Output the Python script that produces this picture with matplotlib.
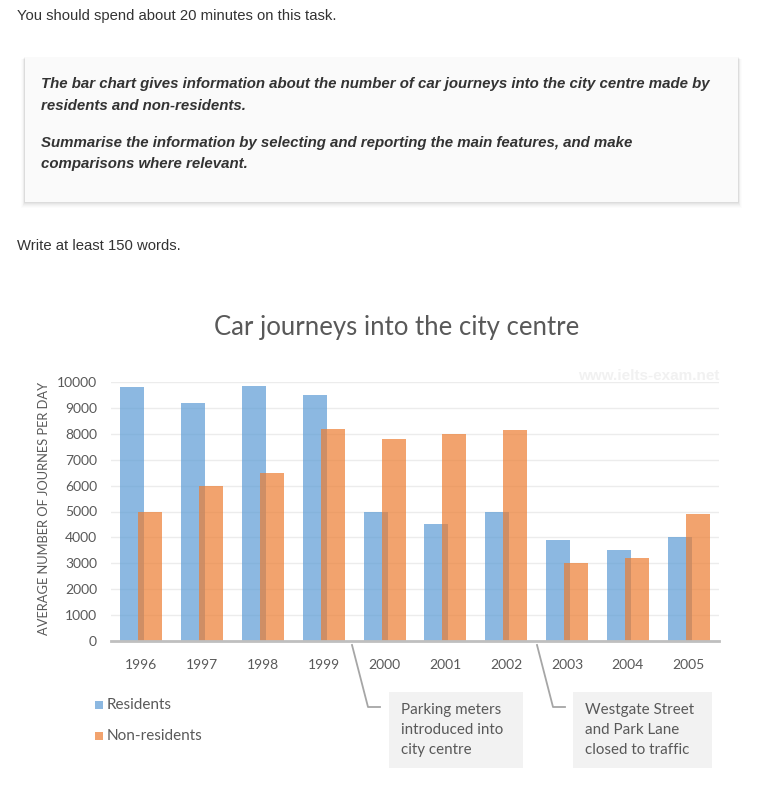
import numpy as np
import matplotlib
matplotlib.use('Agg')
import matplotlib.pyplot as plt
from matplotlib.patches import Rectangle
from matplotlib.lines import Line2D

# data
years = ['1996', '1997', '1998', '1999', '2000', '2001', '2002', '2003', '2004', '2005']
residents = [9800, 9200, 9850, 9500, 5000, 4500, 5000, 3900, 3500, 4000]
non_residents = [5000, 6000, 6500, 8200, 7800, 8000, 8150, 3000, 3200, 4900]
y_ticks = list(range(0, 10001, 1000))

W, H = 783, 788
chart_font = 'Lato'
page_font = 'Liberation Sans'
txt_col = '#595959'


def fx(px):
    return px / W


def fy(py):
    return 1 - py / H


fig = plt.figure(figsize=(W / 100, H / 100), dpi=100)
fig.patch.set_facecolor('white')

# ---- page text above the chart ----
fig.text(fx(17), fy(16), 'You should spend about 20 minutes on this task.',
         family=page_font, fontsize=10.7, color='#333333', va='center')

# task box with a soft shadow (mostly below)
for i in range(6):
    grow = i + 1
    fig.patches.append(Rectangle((fx(25 - grow * 0.6), fy(202 + grow * 1.0)),
                                 fx(713 + grow * 1.2), (145 + grow * 0.6) / H,
                                 transform=fig.transFigure, facecolor='black',
                                 alpha=0.035 - i * 0.005, edgecolor='none', zorder=0))
fig.patches.append(Rectangle((fx(25), fy(202)), fx(713), 145 / H, transform=fig.transFigure,
                             facecolor='#fafafa', edgecolor='none', zorder=1))

box_lines = [
    (84, 'The bar chart gives information about the number of car journeys into the city centre made by'),
    (106, 'residents and non-residents.'),
    (143, 'Summarise the information by selecting and reporting the main features, and make'),
    (164, 'comparisons where relevant.'),
]
for yy, s in box_lines:
    fig.text(fx(41), fy(yy), s, family=page_font, fontsize=10.8, fontweight='bold',
             style='italic', color='#333333', va='center', zorder=2)

fig.text(fx(17), fy(246), 'Write at least 150 words.',
         family=page_font, fontsize=10.7, color='#333333', va='center')

# ---- chart ----
ax = fig.add_axes([fx(111), fy(641), fx(719 - 111), (641 - 382) / H])
x = np.arange(len(years))
bw = 0.393
off = 0.148
ax.bar(x - off, residents, bw, color='#5B9BD5', alpha=0.7, zorder=2, label='Residents')
ax.bar(x + off, non_residents, bw, color='#ED7D31', alpha=0.7, zorder=3, label='Non-residents')

ax.set_xlim(-0.5, len(years) - 0.5)
ax.set_ylim(0, 10000)
ax.set_yticks(y_ticks)
ax.set_xticks(x)
ax.set_xticklabels(years)
ax.yaxis.grid(True, color='#ececec', lw=1, zorder=0)
ax.set_axisbelow(True)
for s in ['top', 'right', 'left']:
    ax.spines[s].set_visible(False)
ax.spines['bottom'].set_color('#bfbfbf')
ax.spines['bottom'].set_linewidth(2)
ax.spines['bottom'].set_zorder(4)
ax.tick_params(axis='both', length=0, labelcolor=txt_col, labelsize=10)
ax.tick_params(axis='x', pad=13)
ax.tick_params(axis='y', pad=10)
for lab in ax.get_xticklabels() + ax.get_yticklabels():
    lab.set_family(chart_font)

fig.text(fx(44), fy(508), 'AVERAGE NUMBER OF JOURNES PER DAY', rotation=90,
         family=chart_font, fontsize=9.3, color=txt_col, ha='center', va='center')

fig.text(fx(397), fy(327), 'Car journeys into the city centre', family=chart_font,
         fontsize=18.5, color=txt_col, ha='center', va='center')

# watermark
fig.text(fx(719), fy(376), 'www.ielts-exam.net', family=page_font, fontsize=11,
         fontweight='bold', color='#f1f1f1', ha='right', va='center', zorder=1)

# legend
leg_items = [(705, '#5B9BD5', 'Residents'), (736, '#ED7D31', 'Non-residents')]
for yy, c, name in leg_items:
    fig.patches.append(Rectangle((fx(95), fy(yy + 4)), fx(8), 8 / H, transform=fig.transFigure,
                                 facecolor=c, alpha=0.7, edgecolor='none'))
    fig.text(fx(107), fy(yy), name, family=chart_font, fontsize=11, color=txt_col, va='center')

# annotation callouts
notes = [
    (389, 523, 352, 368, 380, ['Parking meters', 'introduced into', 'city centre']),
    (573, 712, 537, 553, 565, ['Westgate Street', 'and Park Lane', 'closed to traffic']),
]
for bx0, bx1, lx0, lx1, lx2, lines in notes:
    fig.patches.append(Rectangle((fx(bx0), fy(768)), fx(bx1 - bx0), 76 / H,
                                 transform=fig.transFigure, facecolor='#f2f2f2', edgecolor='none'))
    fig.lines.append(Line2D([fx(lx0), fx(lx1), fx(lx2)], [fy(645), fy(707), fy(707)],
                            transform=fig.transFigure, color='#a6a6a6', lw=1.3))
    for i, s in enumerate(lines):
        fig.text(fx(bx0 + 12), fy(710 + i * 20), s, family=chart_font, fontsize=10.9,
                 color=txt_col, va='center')

fig.savefig('out.png', dpi=100)
